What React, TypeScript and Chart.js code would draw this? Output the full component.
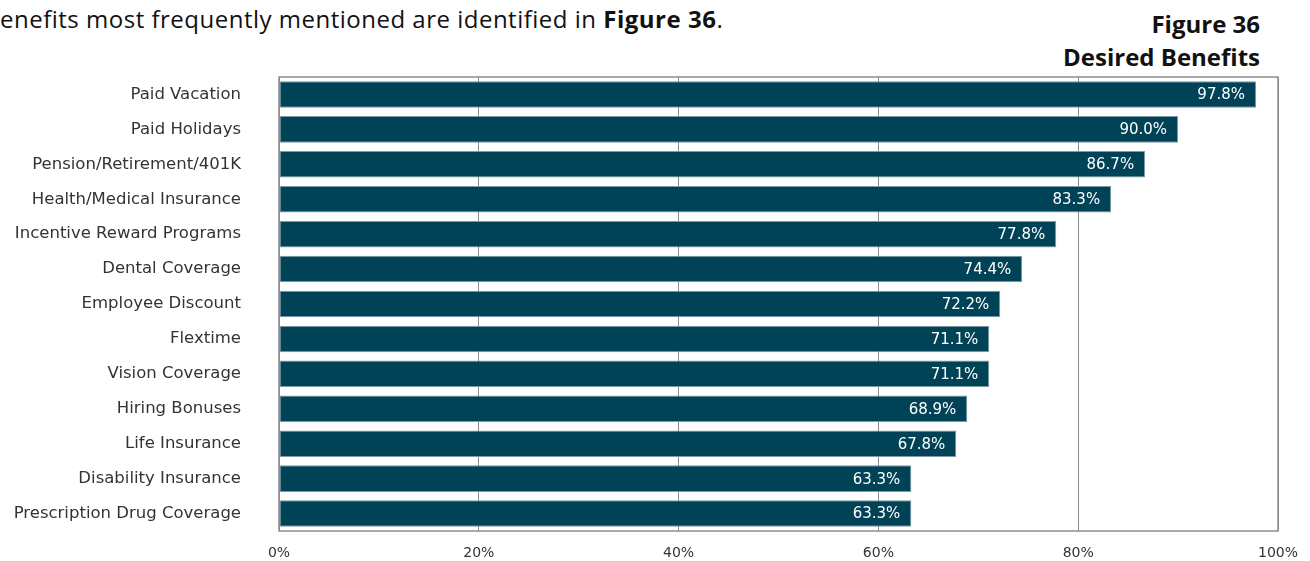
import React, { useEffect, useRef } from "react";
import { Chart, registerables } from "chart.js";

Chart.register(...registerables);

const categories = [
  "Paid Vacation",
  "Paid Holidays",
  "Pension/Retirement/401K",
  "Health/Medical Insurance",
  "Incentive Reward Programs",
  "Dental Coverage",
  "Employee Discount",
  "Flextime",
  "Vision Coverage",
  "Hiring Bonuses",
  "Life Insurance",
  "Disability Insurance",
  "Prescription Drug Coverage",
];
const values = [97.8, 90.0, 86.7, 83.3, 77.8, 74.4, 72.2, 71.1, 71.1, 68.9, 67.8, 63.3, 63.3];
const xTicks = [0, 20, 40, 60, 80, 100];

const FONT = "'DejaVu Sans', sans-serif";

const labelPlugin = {
  id: "barLabels",
  afterDatasetsDraw(chart: any) {
    const ctx = chart.ctx;
    const meta = chart.getDatasetMeta(0);
    ctx.save();
    ctx.font = `15px ${FONT}`;
    ctx.fillStyle = "#ffffff";
    ctx.textAlign = "right";
    ctx.textBaseline = "middle";
    meta.data.forEach((bar: any, i: number) => {
      ctx.fillText(values[i].toFixed(1) + "%", bar.x - 11, bar.y + 1);
    });
    ctx.restore();
  },
};

const borderPlugin = {
  id: "plotBorder",
  afterDraw(chart: any) {
    const { ctx, chartArea } = chart;
    ctx.save();
    ctx.strokeStyle = "#8c8c8c";
    ctx.lineWidth = 1.5;
    ctx.strokeRect(chartArea.left, chartArea.top, chartArea.right - chartArea.left, chartArea.bottom - chartArea.top);
    ctx.restore();
  },
};

export default function App() {
  const ref = useRef<HTMLCanvasElement>(null);
  useEffect(() => {
    if (!ref.current) return;
    const chart = new Chart(ref.current, {
      type: "bar",
      data: {
        labels: categories,
        datasets: [
          {
            data: values,
            backgroundColor: "#004357",
            borderColor: "#7f9aa6",
            borderWidth: 1,
            borderSkipped: false,
            barPercentage: 0.76,
            categoryPercentage: 1,
          },
        ],
      },
      options: {
        indexAxis: "y",
        responsive: false,
        maintainAspectRatio: false,
        animation: false,
        layout: { padding: { top: 77, right: 32, left: 0, bottom: 0 } },
        plugins: { legend: { display: false }, tooltip: { enabled: false }, title: { display: false } },
        scales: {
          x: {
            min: 0,
            max: 100,
            afterBuildTicks(scale: any) {
              scale.ticks = xTicks.map((v) => ({ value: v }));
            },
            afterFit(scale: any) {
              scale.height = 30;
              scale.paddingLeft = 0;
              scale.paddingRight = 0;
            },
            grid: { color: "#8c8c8c", lineWidth: 1, drawTicks: false },
            border: { display: false },
            ticks: {
              padding: 14,
              color: "#333",
              font: { family: FONT, size: 14 },
              callback: (v: any) => v + "%",
            },
          },
          y: {
            afterFit(scale: any) {
              scale.width = 279;
              scale.paddingTop = 0;
              scale.paddingBottom = 0;
            },
            grid: { display: false, drawTicks: false },
            border: { display: false },
            ticks: {
              padding: 38,
              color: "#333",
              font: { family: FONT, size: 16.5 },
            },
          },
        },
      },
      plugins: [labelPlugin, borderPlugin],
    });
    return () => chart.destroy();
  }, []);

  return (
    <div style={{ position: "absolute", left: 0, top: 0, width: 1310, height: 561, overflow: "hidden", background: "#fff" }}>
      <div
        style={{
          position: "absolute",
          left: -16,
          top: 2,
          fontFamily: "'Open Sans', sans-serif",
          fontSize: 24,
          letterSpacing: 0.5,
          color: "#111",
          whiteSpace: "nowrap",
        }}
      >
        Benefits most frequently mentioned are identified in <b>Figure 36</b>.
      </div>
      <div
        style={{
          position: "absolute",
          right: 50,
          top: 7,
          textAlign: "right",
          fontFamily: "'Open Sans', sans-serif",
          fontWeight: 700,
          fontSize: 24,
          lineHeight: "33px",
          color: "#111",
        }}
      >
        Figure 36
        <br />
        Desired Benefits
      </div>
      <canvas ref={ref} width={1310} height={561} style={{ position: "absolute", left: 0, top: 0 }} />
    </div>
  );
}
